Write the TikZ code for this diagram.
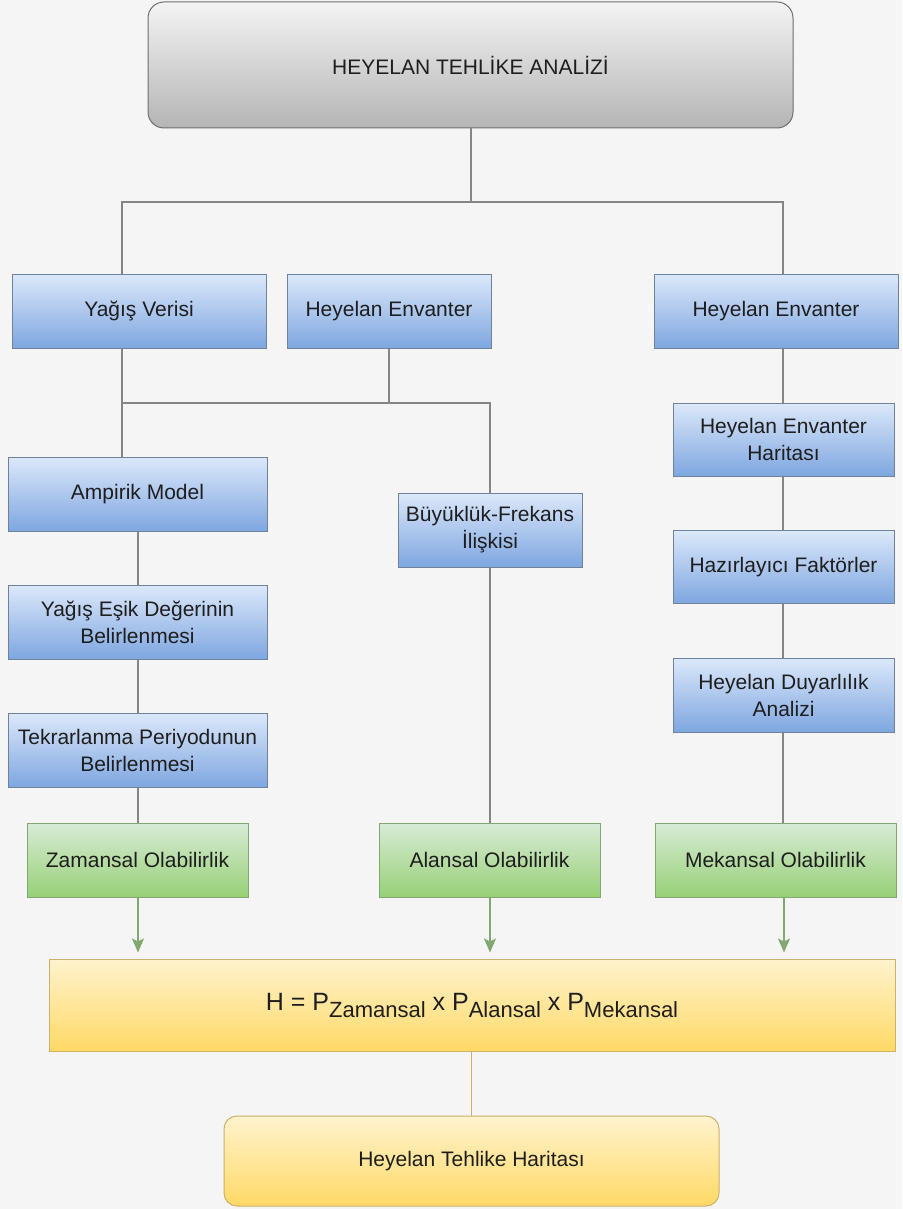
\documentclass[tikz,border=0pt]{standalone}
\usepackage{fontspec}
\setmainfont{Liberation Sans}
\usetikzlibrary{arrows.meta}

\definecolor{bg}{HTML}{F5F5F5}
\definecolor{txt}{HTML}{1E1E1E}
\definecolor{grayTop}{HTML}{F4F4F4}
\definecolor{grayBot}{HTML}{B4B4B4}
\definecolor{grayLine}{HTML}{6E6E6E}
\definecolor{blueTop}{HTML}{DCE8FA}
\definecolor{blueBot}{HTML}{7EA6E0}
\definecolor{blueLine}{HTML}{6F8299}
\definecolor{greenTop}{HTML}{D8EBD5}
\definecolor{greenBot}{HTML}{97D077}
\definecolor{greenLine}{HTML}{82A870}
\definecolor{yelTop}{HTML}{FFF3CE}
\definecolor{yelBot}{HTML}{FFD966}
\definecolor{yelLine}{HTML}{CDB06A}
\definecolor{conn}{HTML}{858585}

\tikzset{
  box/.style={draw, line width=1pt, inner sep=2pt, align=center, text=txt,
    font=\fontsize{21}{27}\selectfont},
  graybox/.style={box, draw=grayLine, top color=grayTop, bottom color=grayBot,
    rounded corners=16pt},
  bluebox/.style={box, draw=blueLine, top color=blueTop, bottom color=blueBot},
  greenbox/.style={box, draw=greenLine, top color=greenTop, bottom color=greenBot},
  yelbox/.style={box, draw=yelLine, top color=yelTop, bottom color=yelBot},
  link/.style={draw=conn, line width=1.2pt},
  greenarrow/.style={draw=greenLine, line width=1.4pt,
    -{Stealth[length=14pt,width=12pt,inset=3pt]}, shorten >=6pt},
  yellink/.style={draw=yelLine, line width=1.4pt},
}

\newcommand{\subtxt}[1]{\raisebox{-7pt}{\fontsize{22}{26}\selectfont #1}}

\begin{document}
\begin{tikzpicture}[x=1pt,y=-1pt]
\fill[bg] (0,0) rectangle (902,1209);
\useasboundingbox (0,0) rectangle (902,1209);

% top level
\node[graybox, minimum width=645, minimum height=126] (title) at (470.5,65)
  {HEYELAN TEHLİKE ANALİZİ};

% input data row
\node[bluebox, minimum width=254, minimum height=74] (yagis) at (139,311) {Yağış Verisi};
\node[bluebox, minimum width=204, minimum height=74] (envL) at (389,311) {Heyelan Envanter};
\node[bluebox, minimum width=244, minimum height=74] (envR) at (776,311) {Heyelan Envanter};

% left branch: temporal probability
\node[bluebox, minimum width=259, minimum height=74] (ampirik) at (137.5,494) {Ampirik Model};
\node[bluebox, minimum width=259, minimum height=74] (esik) at (137.5,622)
  {Yağış Eşik Değerinin\\Belirlenmesi};
\node[bluebox, minimum width=259, minimum height=74] (tekrar) at (137.5,750)
  {Tekrarlanma Periyodunun\\Belirlenmesi};

% middle branch: magnitude-frequency
\node[bluebox, minimum width=184, minimum height=74] (buyuk) at (490,530)
  {Büyüklük-Frekans\\İlişkisi};

% right branch: susceptibility
\node[bluebox, minimum width=221, minimum height=73] (harita) at (783.5,439.5)
  {Heyelan Envanter\\Haritası};
\node[bluebox, minimum width=221, minimum height=73] (hazir) at (783.5,567)
  {Hazırlayıcı Faktörler};
\node[bluebox, minimum width=221, minimum height=74] (duyar) at (783.5,695)
  {Heyelan Duyarlılık\\Analizi};

% probabilities
\node[greenbox, minimum width=221, minimum height=74] (zaman) at (137.5,860) {Zamansal Olabilirlik};
\node[greenbox, minimum width=221, minimum height=74] (alan) at (489.5,860) {Alansal Olabilirlik};
\node[greenbox, minimum width=241, minimum height=74] (mekan) at (775.5,860) {Mekansal Olabilirlik};

% hazard formula and result
\node[yelbox, minimum width=846, minimum height=92] (formula) at (472,1005)
  {\fontsize{25}{30}\selectfont H = P\subtxt{Zamansal} x P\subtxt{Alansal} x P\subtxt{Mekansal}};
\node[yelbox, rounded corners=13pt, minimum width=495, minimum height=90] (result) at (471.5,1161)
  {Heyelan Tehlike Haritası};

% bus lines
\coordinate (busL) at (122,202);
\coordinate (busR) at (783,202);
\coordinate (midL) at (122,403);
\coordinate (midR) at (490,403);

\draw[link] (title.south -| 471,0) -- (busL -| 471,0);
\draw[link] (yagis.north -| busL) -- (busL) -- (busR) -- (envR.north -| busR);

\draw[link] (yagis.south -| midL) -- (ampirik.north -| midL);
\draw[link] (midL) -- (midR) -- (buyuk.north -| midR);
\draw[link] (envL.south) -- (envL.south |- midL);

\draw[link] (ampirik.south -| 138,0) -- (esik.north -| 138,0);
\draw[link] (esik.south -| 138,0) -- (tekrar.north -| 138,0);
\draw[link] (tekrar.south -| 138,0) -- (zaman.north -| 138,0);

\draw[link] (buyuk.south) -- (alan.north -| buyuk.south);

\draw[link] (envR.south -| busR) -- (harita.north -| busR);
\draw[link] (harita.south -| busR) -- (hazir.north -| busR);
\draw[link] (hazir.south -| busR) -- (duyar.north -| busR);
\draw[link] (duyar.south -| busR) -- (mekan.north -| busR);

% arrows into the formula
\draw[greenarrow] (zaman.south -| 138,0) -- (formula.north -| 138,0);
\draw[greenarrow] (alan.south -| 490,0) -- (formula.north -| 490,0);
\draw[greenarrow] (mekan.south -| 784,0) -- (formula.north -| 784,0);

\draw[yellink] (formula.south -| result.north) -- (result.north);
\end{tikzpicture}
\end{document}
